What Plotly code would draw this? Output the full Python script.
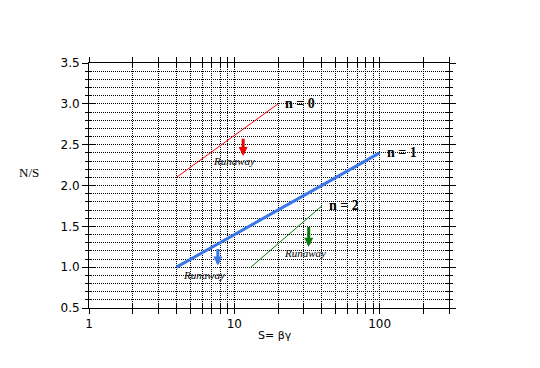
import math
import plotly.graph_objects as go

# ---- data ----
n0_x = [4, 20]
n0_y = [2.1, 3.0]
n1_x = [4, 100]
n1_y = [1.0, 2.4]
n2_x = [13, 40]
n2_y = [1.0, 1.75]

x_tick_vals = [1, 2, 3, 4, 5, 6, 7, 8, 9, 10, 20, 30, 40, 50, 60, 70, 80, 90, 100, 200, 300]
x_tick_text = ["1", "", "", "", "", "", "", "", "", "10", "", "", "", "", "", "", "", "", "100", "", ""]
y_range = [0.5, 3.5]

curve_labels = ["n = 0", "n = 1", "n = 2"]
arrow_label = "Runaway"
# arrows: (x, y_top, y_tip, label_x, label_y, colour)
arrows = [
    (11.5, 2.59, 2.36, 9.95, 2.30, "#ee0000"),
    (7.7, 1.24, 1.02, 6.2, 0.90, "#3a78e8"),
    (32.5, 1.51, 1.25, 30.7, 1.17, "#087a08"),
]

RED = "#ff0000"
BLUE = "#3a78e8"
GREEN = "#008000"

fig = go.Figure()
fig.add_trace(go.Scatter(x=n0_x, y=n0_y, mode="lines", line=dict(color=RED, width=1), showlegend=False))
fig.add_trace(go.Scatter(x=n1_x, y=n1_y, mode="lines", line=dict(color=BLUE, width=3), showlegend=False))
fig.add_trace(go.Scatter(x=n2_x, y=n2_y, mode="lines", line=dict(color=GREEN, width=1), showlegend=False))
# invisible trace to anchor the overlay axes
fig.add_trace(go.Scatter(x=[1], y=[0.5], xaxis="x2", yaxis="y2", mode="markers",
                         marker=dict(opacity=0), showlegend=False, hoverinfo="skip"))

tick_font = dict(family="DejaVu Sans", size=12, color="black")
DOT = "1px,1px"
xr = [0, math.log10(300)]

fig.update_layout(
    width=532, height=360,
    margin=dict(l=81, r=91, t=55, b=60, autoexpand=False),
    paper_bgcolor="white", plot_bgcolor="white",
    showlegend=False,
    xaxis=dict(type="log", range=xr, tickvals=x_tick_vals, ticktext=x_tick_text,
               ticks="outside", ticklen=5, tickcolor="black", tickwidth=1,
               showline=True, linecolor="black", linewidth=1, mirror="ticks",
               showgrid=True, gridcolor="black", gridwidth=1, griddash=DOT,
               zeroline=False, tickfont=tick_font),
    yaxis=dict(range=y_range, tick0=0.5, dtick=0.5, tickformat=".1f",
               ticks="outside", ticklen=6, tickcolor="black", tickwidth=1,
               showline=True, linecolor="black", linewidth=1, mirror="ticks",
               showgrid=True, gridcolor="black", gridwidth=1, griddash=DOT,
               minor=dict(dtick=0.1, tick0=0.5, ticks="outside", ticklen=3, tickcolor="black",
                          showgrid=True, gridcolor="black", griddash=DOT, gridwidth=1),
               zeroline=False, tickfont=tick_font),
    xaxis2=dict(type="log", range=xr, overlaying="x", anchor="y2", tickvals=x_tick_vals,
                ticks="inside", ticklen=4, tickcolor="black", showticklabels=False,
                showgrid=False, zeroline=False, showline=False, mirror="ticks"),
    yaxis2=dict(range=y_range, overlaying="y", anchor="x2", tick0=0.5, dtick=0.5,
                ticks="inside", ticklen=7, tickcolor="black", showticklabels=False,
                minor=dict(dtick=0.1, tick0=0.5, ticks="inside", ticklen=3, tickcolor="black", showgrid=False),
                showgrid=False, zeroline=False, showline=False, mirror="ticks"),
)

ann = []
# curve labels
lab_font = dict(family="Liberation Serif", size=14, color="black")
for lx, ly, txt in [(n0_x[-1], n0_y[-1], curve_labels[0]),
                    (n1_x[-1], n1_y[-1], curve_labels[1]),
                    (n2_x[-1], n2_y[-1], curve_labels[2])]:
    ann.append(dict(x=math.log10(lx), y=ly, xref="x", yref="y", text="<b>" + txt + "</b>",
                    showarrow=False, xanchor="left", yanchor="middle", xshift=5, font=lab_font))
# arrows + "Runaway" labels
for ax_, ytop, ytip, lx, ly, col in arrows:
    ann.append(dict(x=math.log10(ax_), y=ytip, ax=math.log10(ax_), ay=ytop, xref="x", yref="y",
                    axref="x", ayref="y", text="", showarrow=True, arrowhead=2, arrowsize=0.6,
                    arrowwidth=3, arrowcolor=col))
    ann.append(dict(x=math.log10(lx), y=ly, xref="x", yref="y", text="<i>" + arrow_label + "</i>",
                    showarrow=False, xanchor="center", yanchor="middle",
                    font=dict(family="Liberation Serif", size=11, color="black")))
# axis titles
ann.append(dict(x=-0.2, y=0.554, xref="paper", yref="paper", text="N/S", showarrow=False,
                font=dict(family="Liberation Serif", size=13, color="black")))
ann.append(dict(x=0.517, y=-0.145, xref="paper", yref="paper", text="S= βγ", showarrow=False,
                font=dict(family="DejaVu Sans", size=11, color="black")))
fig.update_layout(annotations=ann)

fig.write_html("out.html")
